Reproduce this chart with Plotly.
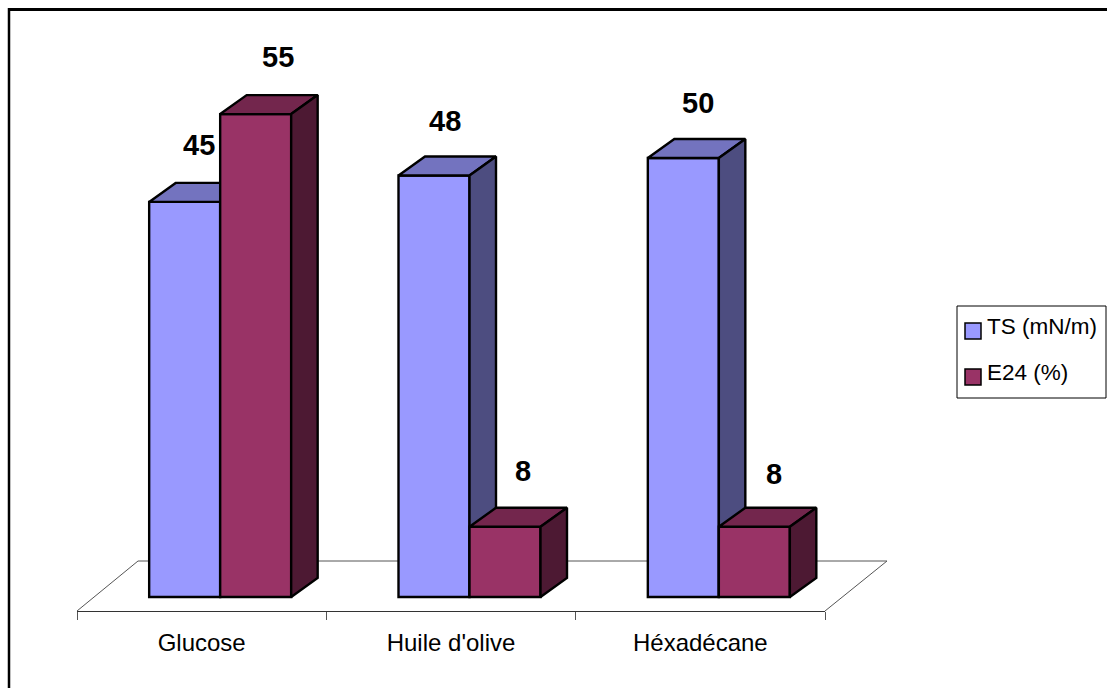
import plotly.graph_objects as go

# Chart data
categories = ["Glucose", "Huile d'olive", "Héxadécane"]
ts_values = [45, 48, 50]
e24_values = [55, 8, 8]
series_names = ["TS (mN/m)", "E24 (%)"]

# Page and plot-area geometry (pixels)
WIDTH, HEIGHT = 1107, 688
LEFT, RIGHT, TOP, BOTTOM = 77, 825, 10, 611
BASE_PX = 597
UNIT_PX = 8.78
CAT_PX = (RIGHT - LEFT) / 3

YMIN = -(BOTTOM - BASE_PX) / UNIT_PX
YMAX = (BASE_PX - TOP) / UNIT_PX

# Extrusion and bar layout, in axis units
DEPTH_X = 26.5 / CAT_PX
DEPTH_Y = 19 / UNIT_PX
BAR_W = 71 / CAT_PX
SHIFT = 18.5 / CAT_PX

BLUE = dict(front="#9999FF", top="#7373BF", side="#4D4D80")
RED = dict(front="#993366", top="#73264D", side="#4D1933")
EDGE_W = 2.4

# Pixel nudges for the value labels, one pair per box
TS_LABEL_SHIFTS = [(14, 57), (11, 55), (15, 55)]
E24_LABEL_SHIFTS = [(22, 57), (18, 56), (20, 53)]


def px_x(px):
    return (px - LEFT) / (RIGHT - LEFT)


def px_y(px):
    return (BOTTOM - px) / (BOTTOM - TOP)


def box_traces(centres, values, colours, name, xa, ya):
    """One bar trace for the front faces, filled polygons for tops and sides."""
    traces = [go.Bar(x=centres, y=values, width=BAR_W, name=name, showlegend=False,
                     marker=dict(color=colours["front"], line=dict(color="black", width=EDGE_W)),
                     xaxis=xa, yaxis=ya, hoverinfo="x+y")]
    for c, v in zip(centres, values):
        l, r = c - BAR_W / 2, c + BAR_W / 2
        faces = [
            ([l, r, r + DEPTH_X, l + DEPTH_X, l], [v, v, v + DEPTH_Y, v + DEPTH_Y, v], colours["top"]),
            ([r, r + DEPTH_X, r + DEPTH_X, r, r], [v, v + DEPTH_Y, DEPTH_Y, 0, v], colours["side"]),
        ]
        for fx, fy, col in faces:
            traces.append(go.Scatter(x=fx, y=fy, mode="lines", fill="toself", fillcolor=col,
                                     line=dict(color="black", width=EDGE_W, simplify=False),
                                     showlegend=False, hoverinfo="skip", xaxis=xa, yaxis=ya))
    return traces


positions = list(range(len(categories)))
ts_x = [p - BAR_W / 2 + SHIFT for p in positions]
e24_x = [p + BAR_W / 2 + SHIFT for p in positions]

fig = go.Figure()

# TS boxes sit on the primary axes, E24 boxes on an overlay so they stay in front
fig.add_traces(box_traces(ts_x, ts_values, BLUE, series_names[0], "x", "y"))
fig.add_traces(box_traces(e24_x, e24_values, RED, series_names[1], "x2", "y2"))

x0, x1 = -0.5, 2.5
fig.update_layout(
    width=WIDTH, height=HEIGHT, autosize=False,
    margin=dict(l=LEFT, r=WIDTH - RIGHT, t=TOP, b=HEIGHT - BOTTOM),
    paper_bgcolor="white", plot_bgcolor="rgba(0,0,0,0)",
    showlegend=False, barmode="overlay",
    font=dict(family="Liberation Sans, Arial, sans-serif", color="black"),
    xaxis=dict(range=[x0, x1], tickvals=positions, ticktext=categories, ticks="",
               tickfont=dict(size=24), showgrid=False, zeroline=False,
               showline=True, linecolor="#333333", linewidth=1, ticklabelstandoff=10,
               minor=dict(tickvals=[-0.5, 0.5, 1.5, 2.5], ticks="outside", ticklen=8,
                          tickcolor="#555555", tickwidth=1, showgrid=False)),
    yaxis=dict(range=[YMIN, YMAX], visible=False),
    xaxis2=dict(range=[x0, x1], overlaying="x", visible=False),
    yaxis2=dict(range=[YMIN, YMAX], overlaying="y", visible=False),
)

# Value labels above each box
annotations = []
for xs, vals, nudges in ((ts_x, ts_values, TS_LABEL_SHIFTS), (e24_x, e24_values, E24_LABEL_SHIFTS)):
    for xv, v, (dx, dy) in zip(xs, vals, nudges):
        annotations.append(dict(x=xv, y=v, xref="x", yref="y", text=f"<b>{v}</b>", showarrow=False,
                                xshift=dx, yshift=dy, font=dict(size=29)))

# Floor outline, behind the boxes
FLOOR_BACK, FLOOR_FRONT = 561, 611
floor_path = (f"M {px_x(77)} {px_y(FLOOR_FRONT)} L {px_x(138)} {px_y(FLOOR_BACK)} "
              f"L {px_x(887)} {px_y(FLOOR_BACK)} L {px_x(825)} {px_y(FLOOR_FRONT)}")

# Hand-built legend: frame, swatches and labels
LEG_L, LEG_T, LEG_R, LEG_B = 957, 306, 1106, 398
shapes = [
    dict(type="path", xref="paper", yref="paper", path=floor_path, layer="below",
         line=dict(color="#555555", width=1)),
    dict(type="rect", xref="paper", yref="paper", x0=px_x(LEG_L), x1=px_x(LEG_R),
         y0=px_y(LEG_B), y1=px_y(LEG_T), line=dict(color="black", width=1), fillcolor="white"),
    # Outer frame: only the top and left edges fall inside the page
    dict(type="line", xref="paper", yref="paper", x0=px_x(8), x1=px_x(1107), y0=px_y(9.5), y1=px_y(9.5),
         line=dict(color="black", width=3)),
    dict(type="line", xref="paper", yref="paper", x0=px_x(9), x1=px_x(9), y0=px_y(688), y1=px_y(8),
         line=dict(color="black", width=2.5)),
]
for name, col, cy in ((series_names[0], BLUE["front"], 331), (series_names[1], RED["front"], 377)):
    shapes.append(dict(type="rect", xref="paper", yref="paper", x0=px_x(965), x1=px_x(981),
                       y0=px_y(cy + 8), y1=px_y(cy - 8), fillcolor=col,
                       line=dict(color="black", width=1.5)))
    annotations.append(dict(x=px_x(985), y=px_y(cy - 4.5), xref="paper", yref="paper", text=name,
                            showarrow=False, xanchor="left", font=dict(size=22.5)))

fig.update_layout(shapes=shapes, annotations=annotations)
fig.write_html("out.html")
